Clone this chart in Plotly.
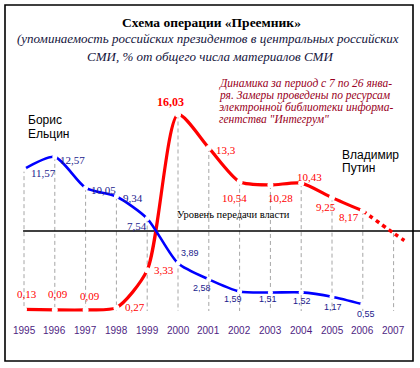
import numpy as np
import plotly.graph_objects as go

# ---- data ----
years = [1995, 1996, 1997, 1998, 1999, 2000, 2001, 2002, 2003, 2004, 2005, 2006]
yeltsin = [11.57, 12.57, 10.05, 9.34, 7.54, 3.89, 2.58, 1.59, 1.51, 1.52, 1.17, 0.55]
putin = [0.13, 0.09, 0.09, 0.27, 3.33, 16.03, 13.3, 10.54, 10.28, 10.43, 9.25, 8.17]
forecast_years = [2006, 2007, 2007.35]
forecast_putin = [8.17, 6.35, 5.75]
tick_years = [1995, 1996, 1997, 1998, 1999, 2000, 2001, 2002, 2003, 2004, 2005, 2006, 2007]
transfer_level = 6.53

# label offsets (pixels) relative to the points
yeltsin_off = [(19, -4), (18, -3), (18, -2), (17, -1.5), (-10, -7), (12, 10), (-7, -9),
               (-7, -7.5), (-2, -6.5), (1, -8.5), (1, -10), (3, -10)]
putin_off = [(3, 15), (3, 16), (4, 14), (19, 1), (17, 0), (-8, 12), (17, -2),
             (-5, -16), (10, -13), (8, 6), (-6, -9), (-14, -6)]

W, H = 420, 368
RED = "#ff0000"
BLUE = "#0000ff"
NAVY = "#1a1a8c"
SERIF = "Liberation Serif, Times New Roman, serif"
SANS = "Liberation Sans, Arial, sans-serif"


def fmt(v):
    return f"{v:.2f}".rstrip("0").rstrip(".").replace(".", ",")


fig = go.Figure()

# drop lines from the highest value at each year down to zero
top_vals = []
for y in tick_years:
    if y in years:
        i = years.index(y)
        top_vals.append(max(yeltsin[i], putin[i]))
    else:
        top_vals.append(float(np.interp(y, forecast_years, forecast_putin)))
dx, dy = [], []
for y, t in zip(tick_years, top_vals):
    dx += [y, y, None]
    dy += [t, 0, None]
fig.add_trace(go.Scatter(x=dx, y=dy, mode="lines",
                         line=dict(color="#a6a6a6", width=1, dash="4px,3px"),
                         hoverinfo="skip", showlegend=False))

# transfer of power level
fig.add_trace(go.Scatter(x=[1994.97, 2007.86], y=[transfer_level, transfer_level], mode="lines",
                         line=dict(color="black", width=1.5), hoverinfo="skip", showlegend=False))

# forecast
fig.add_trace(go.Scatter(x=forecast_years, y=forecast_putin, mode="lines",
                         line=dict(color=RED, width=3.5, dash="4px,4px", shape="spline"),
                         hoverinfo="skip", showlegend=False))

# main lines with gaps at points
fig.add_trace(go.Scatter(x=years, y=putin, mode="lines+markers",
                         line=dict(color=RED, width=3.2, shape="spline", smoothing=0.7),
                         marker=dict(color="white", size=6, line=dict(width=0)),
                         hoverinfo="skip", showlegend=False))
fig.add_trace(go.Scatter(x=years, y=yeltsin, mode="lines+markers",
                         line=dict(color=BLUE, width=2.6, shape="spline", smoothing=0.7),
                         marker=dict(color="white", size=5, line=dict(width=0)),
                         hoverinfo="skip", showlegend=False))

ann = []
# data labels
for i, (y, v) in enumerate(zip(years, yeltsin)):
    serif = i < 5
    ann.append(dict(x=y, y=v, xref="x", yref="y", text=fmt(v), showarrow=False,
                    xshift=yeltsin_off[i][0], yshift=yeltsin_off[i][1],
                    font=dict(family=SERIF if serif else SANS, size=11 if serif else 9, color=NAVY)))
for i, (y, v) in enumerate(zip(years, putin)):
    big = v == max(putin)
    ann.append(dict(x=y, y=v, xref="x", yref="y",
                    text=("<b>%s</b>" % fmt(v)) if big else fmt(v), showarrow=False,
                    xshift=putin_off[i][0], yshift=putin_off[i][1],
                    font=dict(family=SERIF, size=12 if big else 11, color=RED)))
# tick labels
for y in tick_years:
    ann.append(dict(x=y, y=-1.55, xref="x", yref="y", text=str(y), showarrow=False,
                    font=dict(family=SANS, size=10, color="#4e1e82")))


def P(px, py):
    return px / W, 1 - py / H


def txt(px, py, text, size, family, color, xanchor="center"):
    x, y = P(px, py)
    ann.append(dict(x=x, y=y, xref="paper", yref="paper", text=text, showarrow=False,
                    xanchor=xanchor, yanchor="middle", align="left" if xanchor == "left" else "center",
                    font=dict(family=family, size=size, color=color)))


txt(211, 22, "<b>Схема операции «Преемник»</b>", 13.5, SERIF, "black")
txt(208, 39, "<i>(упоминаемость российских президентов в центральных российских</i>", 13, SERIF, "#14143c")
txt(210, 56, "<i>СМИ, % от общего числа материалов СМИ</i>", 13, SERIF, "#14143c")

note = ["Динамика за период с 7 по 26 янва-",
        "ря. Замеры проведены по ресурсам",
        "электронной библиотеки информа-",
        "гентства \"Интегрум\""]
for k, line in enumerate(note):
    txt(217, 83 + k * 12.3, "<i>%s</i>" % line, 11.5, SERIF, "#990022", xanchor="left")

txt(26, 120, "Борис", 12, SANS, "black", xanchor="left")
txt(26, 134, "Ельцин", 12, SANS, "black", xanchor="left")
txt(340, 155, "Владимир", 12, SANS, "black", xanchor="left")
txt(340, 168, "Путин", 12, SANS, "black", xanchor="left")
txt(233, 214, "Уровень передачи власти", 10.5, SERIF, "black")

fig.update_layout(
    width=W, height=H,
    margin=dict(l=0, r=0, t=0, b=0),
    paper_bgcolor="white", plot_bgcolor="white",
    xaxis=dict(range=[1995 - 24 / 30.8, 1995 + 396 / 30.8], visible=False, fixedrange=True),
    yaxis=dict(range=[-57 / 12.26, 311 / 12.26], visible=False, fixedrange=True),
    annotations=ann,
    shapes=[dict(type="rect", xref="paper", yref="paper",
                 x0=5 / W, x1=413 / W, y0=1 - 361 / H, y1=1 - 5 / H,
                 line=dict(color="black", width=1.6))],
    showlegend=False,
)

fig.write_html("out.html", config={"displayModeBar": False},
               post_script="document.body.style.margin='0';document.body.style.overflow='hidden';")
